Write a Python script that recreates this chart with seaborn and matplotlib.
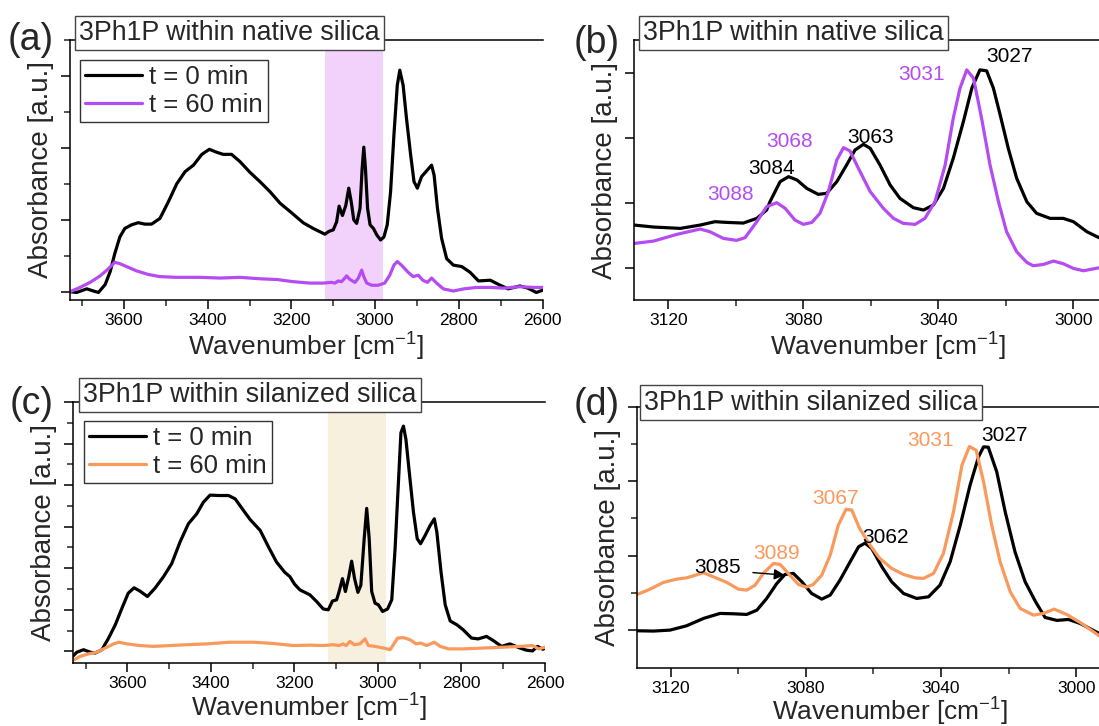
import numpy as np
import pandas as pd
import matplotlib
matplotlib.use("Agg")
import matplotlib.pyplot as plt
import seaborn as sns

sns.set_style("ticks")
plt.rcParams['font.family'] = ['Liberation Sans', 'DejaVu Sans']
plt.rcParams['mathtext.default'] = 'regular'

# ---------------- data ----------------
# Panel (a): native silica, full range
a_t0_wn = [3729, 3713, 3689, 3673, 3661, 3645, 3633, 3622, 3610, 3598, 3582, 3566, 3550, 3534, 3514,
           3494, 3474, 3454, 3434, 3414, 3396, 3379, 3363, 3343, 3323, 3299, 3275, 3251, 3227, 3200,
           3172, 3148, 3120, 3110, 3100, 3092, 3086, 3078, 3070, 3063, 3057, 3051, 3044, 3036, 3031,
           3027, 3023, 3018, 3012, 3004, 2996, 2987, 2979, 2971, 2963, 2955, 2947, 2941, 2933, 2925,
           2915, 2907, 2899, 2889, 2877, 2865, 2859, 2851, 2841, 2829, 2813, 2793, 2773, 2753, 2725,
           2701, 2682, 2654, 2635, 2615, 2600]
a_t0_abs = [0.00, -0.01, 0.04, 0.01, -0.01, 0.10, 0.28, 0.53, 0.76, 0.88, 0.93, 0.96, 0.94, 0.94, 1.02,
            1.25, 1.50, 1.67, 1.76, 1.91, 1.98, 1.94, 1.91, 1.91, 1.81, 1.66, 1.53, 1.39, 1.23, 1.10,
            0.96, 0.88, 0.80, 0.84, 0.86, 0.97, 1.19, 1.06, 1.20, 1.44, 1.25, 1.00, 0.95, 1.16, 1.71,
            2.01, 1.71, 1.16, 0.93, 0.88, 0.79, 0.72, 0.76, 0.93, 1.39, 2.18, 2.87, 3.08, 2.87, 2.41,
            1.90, 1.53, 1.44, 1.60, 1.68, 1.76, 1.62, 1.16, 0.74, 0.46, 0.37, 0.35, 0.27, 0.15, 0.16,
            0.09, 0.04, 0.08, 0.05, -0.01, 0.02]
a_t60_wn = [3729, 3705, 3681, 3657, 3637, 3622, 3610, 3594, 3570, 3542, 3514, 3474, 3418, 3370, 3323,
            3275, 3235, 3196, 3156, 3124, 3104, 3096, 3088, 3080, 3068, 3060, 3048, 3040, 3032, 3027,
            3020, 3008, 2993, 2977, 2965, 2955, 2947, 2937, 2921, 2909, 2897, 2886, 2875, 2865, 2853,
            2837, 2813, 2788, 2757, 2725, 2693, 2654, 2620, 2600]
a_t60_abs = [0.00, 0.06, 0.13, 0.22, 0.32, 0.41, 0.39, 0.35, 0.29, 0.24, 0.21, 0.20, 0.20, 0.19, 0.20,
             0.18, 0.17, 0.14, 0.12, 0.12, 0.13, 0.12, 0.15, 0.14, 0.22, 0.17, 0.13, 0.19, 0.30, 0.21,
             0.12, 0.09, 0.09, 0.12, 0.23, 0.37, 0.42, 0.37, 0.27, 0.21, 0.23, 0.16, 0.13, 0.19, 0.12,
             0.04, 0.01, 0.04, 0.06, 0.06, 0.05, 0.07, 0.06, 0.06]

# Panel (b): native silica, zoom
b_t0_wn = [3130.1, 3124.4, 3116.5, 3110.6, 3106.2, 3102.7, 3097.8, 3093.8, 3090.9, 3089.9, 3086.9,
           3084.4, 3081.9, 3079.0, 3075.6, 3073.1, 3070.1, 3067.2, 3064.7, 3062.2, 3060.2, 3057.3,
           3054.3, 3051.4, 3047.4, 3044.4, 3041.5, 3038.5, 3035.6, 3032.6, 3030.1, 3027.7, 3025.7,
           3023.7, 3021.7, 3019.3, 3016.8, 3013.8, 3010.9, 3006.9, 3003.0, 3000.0, 2996.0, 2992.4]
b_t0_abs = [0.656, 0.626, 0.605, 0.656, 0.708, 0.697, 0.687, 0.759, 0.887, 1.015, 1.323,
            1.40, 1.349, 1.22, 1.128, 1.144, 1.323, 1.579, 1.81, 1.897, 1.836, 1.579,
            1.272, 1.067, 0.923, 0.887, 0.964, 1.22, 1.682, 2.246, 2.759, 3.041, 3.026,
            2.759, 2.349, 1.836, 1.374, 1.015, 0.836, 0.759, 0.759, 0.708, 0.554, 0.462]
b_t60_wn = [3130.1, 3124.4, 3117.5, 3110.6, 3107.7, 3103.7, 3099.8, 3097.3, 3093.8, 3090.9, 3087.9,
            3085.4, 3082.5, 3080.0, 3077.5, 3075.1, 3072.6, 3070.1, 3068.1, 3066.2, 3063.7, 3060.2,
            3056.3, 3053.3, 3050.4, 3046.9, 3044.0, 3041.0, 3038.0, 3035.6, 3033.6, 3031.6, 3029.6,
            3027.2, 3024.7, 3022.2, 3019.8, 3016.8, 3013.8, 3011.9, 3008.9, 3005.9, 3003.0, 3000.0,
            2997.0, 2992.4]
b_t60_abs = [0.374, 0.41, 0.513, 0.595, 0.554, 0.451, 0.421, 0.462, 0.708, 0.938, 1.0,
             0.913, 0.733, 0.667, 0.697, 0.836, 1.169, 1.656, 1.846, 1.795, 1.528, 1.169,
             0.913, 0.759, 0.682, 0.667, 0.759, 1.015, 1.579, 2.297, 2.759, 3.041, 2.913,
             2.297, 1.579, 1.015, 0.554, 0.246, 0.082, 0.031, 0.051, 0.103, 0.062, -0.01,
             -0.046, 0.0]
b_t0_peaks = ["3084", "3063", "3027"]
b_t0_peak_pos = [(3089.4, 1.53), (3060.0, 2.0), (3019.0, 3.24)]
b_t60_peaks = ["3088", "3068", "3031"]
b_t60_peak_pos = [(3101.7, 1.12), (3084.1, 1.94), (3044.9, 2.97)]

# Panel (c): silanized silica, full range
c_t0_wn = [3731, 3721, 3705, 3689, 3677, 3661, 3645, 3629, 3613, 3598, 3584, 3570, 3552, 3534, 3514,
           3494, 3474, 3454, 3434, 3418, 3402, 3382, 3358, 3342, 3322, 3306, 3282, 3262, 3243, 3223,
           3211, 3200, 3187, 3163, 3147, 3131, 3119, 3109, 3099, 3093, 3085, 3078, 3070, 3063, 3056,
           3048, 3041, 3033, 3027, 3021, 3015, 3007, 2999, 2989, 2977, 2967, 2959, 2951, 2945, 2939,
           2933, 2925, 2915, 2906, 2898, 2887, 2875, 2865, 2859, 2849, 2839, 2827, 2811, 2796, 2776,
           2760, 2740, 2724, 2704, 2684, 2660, 2645, 2630, 2618, 2605, 2600]
c_t0_abs = [-0.12, -0.02, 0.04, -0.02, -0.04, 0.04, 0.32, 0.64, 1.04, 1.40, 1.53, 1.45, 1.32, 1.52, 1.79,
            2.11, 2.63, 3.07, 3.31, 3.59, 3.76, 3.75, 3.75, 3.67, 3.39, 3.17, 2.91, 2.51, 2.15, 1.90,
            1.80, 1.62, 1.48, 1.36, 1.20, 1.02, 1.00, 1.21, 1.24, 1.44, 1.75, 1.44, 1.79, 2.17, 1.75,
            1.42, 1.59, 2.71, 3.44, 2.71, 1.44, 1.16, 1.12, 0.96, 1.02, 1.24, 2.47, 4.07, 5.26, 5.42,
            5.10, 4.31, 3.35, 2.71, 2.59, 2.79, 3.03, 3.19, 2.87, 1.91, 1.12, 0.73, 0.64, 0.52, 0.32,
            0.30, 0.36, 0.26, 0.12, 0.18, 0.08, 0.03, 0.01, 0.12, 0.05, 0.08]
c_t60_wn = [3731, 3713, 3693, 3673, 3653, 3633, 3621, 3601, 3570, 3538, 3498, 3458, 3410, 3354, 3298,
            3251, 3203, 3163, 3131, 3107, 3093, 3084, 3076, 3067, 3057, 3043, 3031, 3023, 3007, 2987,
            2971, 2963, 2953, 2939, 2923, 2909, 2898, 2883, 2865, 2851, 2831, 2796, 2748, 2700, 2660,
            2630, 2615, 2600]
c_t60_abs = [-0.22, -0.12, -0.06, -0.02, 0.08, 0.18, 0.22, 0.18, 0.14, 0.12, 0.14, 0.16, 0.18, 0.22, 0.22,
             0.19, 0.14, 0.15, 0.14, 0.16, 0.14, 0.18, 0.14, 0.24, 0.16, 0.18, 0.30, 0.14, 0.12, 0.08,
             0.04, 0.16, 0.32, 0.33, 0.28, 0.18, 0.20, 0.14, 0.22, 0.12, 0.06, 0.06, 0.08, 0.10, 0.12,
             0.14, 0.06, 0.10]

# Panel (d): silanized silica, zoom
d_t0_wn = [3129.9, 3125.1, 3120.2, 3115.3, 3110.3, 3105.4, 3101.4, 3097.5, 3094.5, 3091.6, 3088.6,
           3086.2, 3083.7, 3081.2, 3078.3, 3075.3, 3072.8, 3069.9, 3066.9, 3064.4, 3062.5, 3060.5,
           3057.5, 3054.6, 3051.1, 3047.2, 3043.7, 3040.3, 3037.3, 3034.3, 3031.4, 3028.9, 3027.4,
           3026.0, 3023.5, 3021.0, 3018.1, 3015.1, 3012.0, 3009.2, 3005.7, 3002.3, 2998.8, 2993.2]
d_t0_abs = [-0.009, -0.013, 0.0, 0.058, 0.157, 0.224, 0.219, 0.21, 0.268, 0.425, 0.626,
            0.747, 0.761, 0.649, 0.492, 0.416, 0.47, 0.671, 0.917, 1.119, 1.168, 1.096,
            0.85, 0.649, 0.492, 0.425, 0.447, 0.604, 0.917, 1.409, 1.946, 2.327, 2.461,
            2.456, 2.125, 1.588, 1.051, 0.649, 0.38, 0.17, 0.13, 0.143, 0.089, -0.045]
d_t60_wn = [3129.9, 3126.1, 3122.2, 3118.2, 3115.3, 3110.3, 3107.4, 3103.4, 3100.0, 3097.5, 3095.0,
            3092.6, 3089.6, 3087.6, 3085.2, 3082.2, 3079.9, 3077.8, 3075.3, 3072.8, 3070.4, 3068.1,
            3066.4, 3064.1, 3061.0, 3058.1, 3054.6, 3051.1, 3047.7, 3045.2, 3042.2, 3039.3, 3036.3,
            3033.8, 3031.6, 3029.6, 3027.4, 3025.0, 3022.5, 3019.5, 3016.6, 3012.6, 3009.7, 3006.5,
            3002.8, 2998.8, 2993.2]
d_t60_abs = [0.479, 0.55, 0.64, 0.685, 0.702, 0.77, 0.716, 0.64, 0.55, 0.537, 0.604,
             0.761, 0.895, 0.881, 0.761, 0.613, 0.577, 0.613, 0.738, 1.007, 1.409, 1.624,
             1.611, 1.365, 1.141, 0.962, 0.828, 0.747, 0.702, 0.694, 0.761, 1.029, 1.588,
             2.215, 2.465, 2.416, 1.991, 1.409, 0.917, 0.515, 0.291, 0.201, 0.224, 0.282,
             0.21, 0.103, -0.076]
d_t0_peaks = ["3085", "3062", "3027"]
d_t0_peak_pos = [(3106.2, 0.84), (3056.5, 1.25), (3021.3, 2.61)]
d_t60_peaks = ["3089", "3067", "3031"]
d_t60_peak_pos = [(3088.8, 1.03), (3071.2, 1.77), (3043.2, 2.55)]
d_arrow_from = (3096.5, 0.775)
d_arrow_to = (3085.4, 0.735)

legend_labels = ["t = 0 min", "t = 60 min"]
titles = ["3Ph1P within native silica", "3Ph1P within silanized silica"]
shade_range = (3120, 2980)

# ---------------- style ----------------
BLACK = "#000000"
PURPLE = "#B44CF2"
PURPLE_SHADE = "#F2D2FA"
ORANGE = "#F99A5C"
ORANGE_SHADE = "#F8F0DE"
LW = 2.3
W, H = 1099, 726

fig = plt.figure(figsize=(W / 100, H / 100), dpi=100)


def make_axes(left, top, right, bottom):
    return fig.add_axes([left / W, 1 - bottom / H, (right - left) / W, (bottom - top) / H])


def style_axes(ax, xpad=2):
    for s in ["left", "bottom", "top", "right"]:
        ax.spines[s].set_linewidth(1.1)
        ax.spines[s].set_color("black")
    ax.spines["right"].set_visible(False)
    ax.tick_params(which="major", direction="out", length=6.5, width=1.1, labelsize=12.5,
                   colors="black", pad=3)
    ax.tick_params(which="minor", direction="out", length=4.0, width=1.1)
    ax.tick_params(axis="y", which="both", labelleft=False)
    ax.set_ylabel("Absorbance [a.u.]", fontsize=20, labelpad=5)
    ax.set_xlabel("Wavenumber [cm$^{-1}$]", fontsize=19, labelpad=xpad)


def title_box(ax, text, xfrac, ypix):
    ax.text(xfrac, 1 + ypix, text, transform=ax.transAxes, fontsize=19.3, ha="left", va="center",
            bbox=dict(boxstyle="square,pad=0.16", fc="white", ec="#444444", lw=1.0), zorder=10)


def panel_label(text, x, y):
    fig.text(x / W, 1 - y / H, text, fontsize=27, ha="left", va="center")


# ---- (a)
ax_a = make_axes(70, 40, 542.5, 300)
ax_a.axvspan(*shade_range, color=PURPLE_SHADE, lw=0, zorder=0)
sns.lineplot(x=a_t0_wn, y=a_t0_abs, ax=ax_a, color=BLACK, lw=LW, sort=False, estimator=None,
             label=legend_labels[0])
sns.lineplot(x=a_t60_wn, y=a_t60_abs, ax=ax_a, color=PURPLE, lw=LW, sort=False, estimator=None,
             label=legend_labels[1])
ax_a.set_xlim(3729, 2600)
ax_a.set_ylim(-0.115, 3.5)
ax_a.set_xticks([3600, 3400, 3200, 3000, 2800, 2600])
ax_a.set_xticks([3700, 3500, 3300, 3100, 2900, 2700], minor=True)
ax_a.set_yticks([0, 1, 2, 3])
ax_a.set_yticks([0.5, 1.5, 2.5, 3.5], minor=True)
style_axes(ax_a)

# ---- (b)
ax_b = make_axes(634.3, 40, 1140.9, 300.3)
sns.lineplot(x=b_t0_wn, y=b_t0_abs, ax=ax_b, color=BLACK, lw=LW, sort=False, estimator=None)
sns.lineplot(x=b_t60_wn, y=b_t60_abs, ax=ax_b, color=PURPLE, lw=LW, sort=False, estimator=None)
ax_b.set_xlim(3130.1, 2980)
ax_b.set_ylim(-0.5, 3.5)
ax_b.set_xticks([3120, 3080, 3040, 3000])
ax_b.set_xticks([3100, 3060, 3020], minor=True)
ax_b.set_yticks([0, 1, 2, 3])
style_axes(ax_b)
for lab, (x, y) in zip(b_t0_peaks, b_t0_peak_pos):
    ax_b.text(x, y, lab, color=BLACK, fontsize=15, ha="center", va="center")
for lab, (x, y) in zip(b_t60_peaks, b_t60_peak_pos):
    ax_b.text(x, y, lab, color=PURPLE, fontsize=15, ha="center", va="center")

# ---- (c)
ax_c = make_axes(72.7, 402, 545, 663)
ax_c.axvspan(*shade_range, color=ORANGE_SHADE, lw=0, zorder=0)
sns.lineplot(x=c_t0_wn, y=c_t0_abs, ax=ax_c, color=BLACK, lw=LW, sort=False, estimator=None,
             label=legend_labels[0])
sns.lineplot(x=c_t60_wn, y=c_t60_abs, ax=ax_c, color=ORANGE, lw=LW, sort=False, estimator=None,
             label=legend_labels[1])
ax_c.set_xlim(3731, 2600)
ax_c.set_ylim(-0.28, 6.0)
ax_c.set_xticks([3600, 3400, 3200, 3000, 2800, 2600])
ax_c.set_xticks([3700, 3500, 3300, 3100, 2900, 2700], minor=True)
ax_c.set_yticks([0, 1, 2, 3, 4, 5, 6])
ax_c.set_yticks([0.5, 1.5, 2.5, 3.5, 4.5, 5.5], minor=True)
style_axes(ax_c, xpad=0.5)

# ---- (d)
ax_d = make_axes(637.3, 406.7, 1143.7, 667.7)
sns.lineplot(x=d_t0_wn, y=d_t0_abs, ax=ax_d, color=BLACK, lw=LW, sort=False, estimator=None)
sns.lineplot(x=d_t60_wn, y=d_t60_abs, ax=ax_d, color=ORANGE, lw=LW, sort=False, estimator=None)
ax_d.set_xlim(3129.9, 2980)
ax_d.set_ylim(-0.505, 3.0)
ax_d.set_xticks([3120, 3080, 3040, 3000])
ax_d.set_xticks([3100, 3060, 3020], minor=True)
ax_d.set_yticks([0, 1, 2, 3])
ax_d.set_yticks([0.5, 1.5, 2.5], minor=True)
style_axes(ax_d, xpad=0)
for lab, (x, y) in zip(d_t0_peaks, d_t0_peak_pos):
    ax_d.text(x, y, lab, color=BLACK, fontsize=15, ha="center", va="center")
for lab, (x, y) in zip(d_t60_peaks, d_t60_peak_pos):
    ax_d.text(x, y, lab, color=ORANGE, fontsize=15, ha="center", va="center")
ax_d.annotate("", xy=d_arrow_to, xytext=d_arrow_from,
              arrowprops=dict(arrowstyle="-|>", color="black", lw=1.0, mutation_scale=16))

# legends
for ax, anchor in [(ax_a, (0.021, 0.923)), (ax_c, (0.024, 0.926))]:
    leg = ax.legend(loc="upper left", bbox_to_anchor=anchor, borderaxespad=0, fontsize=18.5,
                    frameon=True, fancybox=False, edgecolor="#333333", framealpha=1,
                    handlelength=2.2, handletextpad=0.3, labelspacing=0.15, borderpad=0.2)
    leg.get_frame().set_linewidth(1.0)
    for ln in leg.get_lines():
        ln.set_linewidth(LW)

# title boxes
title_box(ax_a, titles[0], 0.019, 7 / 260)
title_box(ax_b, titles[0], 0.017, 7 / 260)
title_box(ax_c, titles[1], 0.022, 7 / 261)
title_box(ax_d, titles[1], 0.013, 4 / 261)

# panel labels
panel_label("(a)", 8, 40)
panel_label("(b)", 574, 43)
panel_label("(c)", 10, 404)
panel_label("(d)", 574, 405)

fig.savefig("out.png", dpi=100)
